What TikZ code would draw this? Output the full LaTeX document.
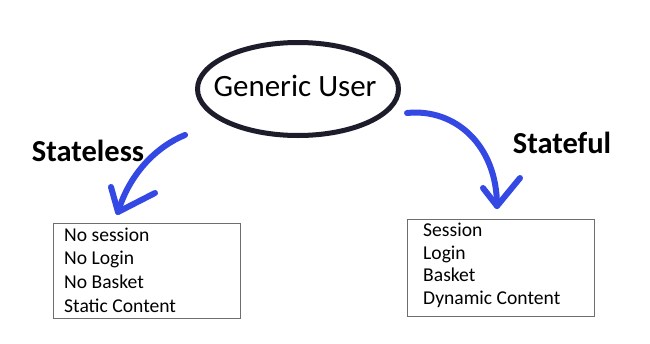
\documentclass[tikz,border=0pt]{standalone}
\usepackage{fontspec}
\setmainfont{Carlito}
\usetikzlibrary{calc,shapes.geometric}
\definecolor{penblue}{RGB}{52,72,228}
\definecolor{inkdark}{RGB}{28,28,42}
\definecolor{framegray}{RGB}{110,110,110}
\begin{document}
\begin{tikzpicture}[x=1pt,y=-1pt,
  brush/.style={penblue,line width=6pt,line cap=round,line join=round},
  listbox/.style={draw=framegray,line width=1.4pt,anchor=north west,inner sep=0pt},
  listtext/.style={anchor=west,align=left,inner sep=0pt,font=\fontsize{19.6}{23.8}\selectfont},
  label/.style={font=\fontsize{30.5}{34}\selectfont\bfseries,inner sep=0pt}]
\useasboundingbox (0,0) rectangle (650,343);
\fill[white] (0,0) rectangle (650,343);

% central actor
\node[draw=inkdark,line width=5pt,ellipse,minimum width=201pt,minimum height=93pt,inner sep=0pt]
  (user) at (298,89) {};
\node[font=\fontsize{31}{34}\selectfont,inner sep=0pt] (usertext) at (295,86) {Generic User};

% branch labels
\node[label] (sl) at (88,151) {Stateless};
\node[label] (sf) at (562,143) {Stateful};

% left list
\node[listbox,minimum width=187pt,minimum height=95pt] (lbox) at (53,223) {};
\node[listtext] (ltext) at ($(lbox.west)+(11,-1)$) {No session\\No Login\\No Basket\\Static Content};

% right list
\node[listbox,minimum width=187pt,minimum height=97pt] (rbox) at (407,219) {};
\node[listtext,font=\fontsize{19.6}{22.7}\selectfont] (rtext) at ($(rbox.west)+(16,-3)$) {Session\\Login\\Basket\\Dynamic Content};

% hand-drawn arrows
\coordinate (a1) at (185,135);
\coordinate (t1) at (118,212);
\coordinate (h1a) at (111,187);
\coordinate (h1b) at (155,193);
\draw[brush] (a1) .. controls (158,146) and (130,172) .. (t1);
\draw[brush] (h1a) -- (t1) -- (h1b);

\coordinate (a2) at (407,113);
\coordinate (t2) at (497,206);
\coordinate (h2a) at (483,188);
\coordinate (h2b) at (520,178);
\draw[brush] (a2) .. controls (455,108) and (497,145) .. (t2);
\draw[brush] (h2a) -- (t2) -- (h2b);
\end{tikzpicture}
\end{document}
